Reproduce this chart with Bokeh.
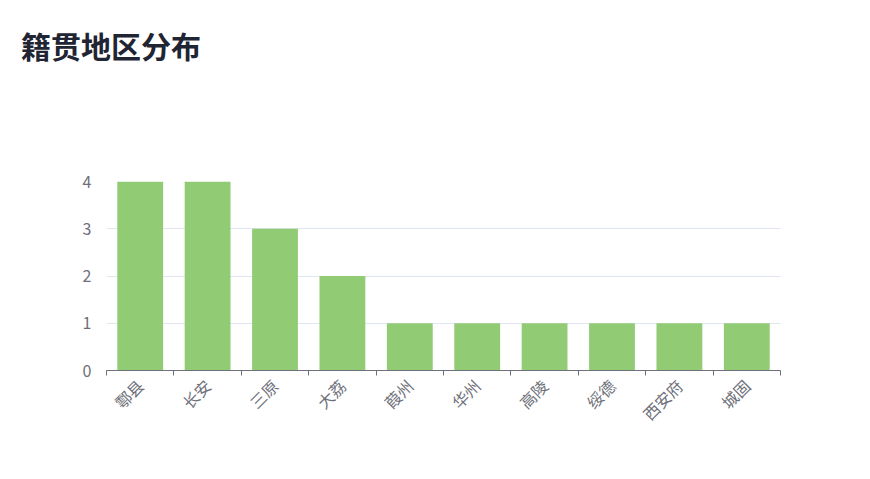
from math import pi
from bokeh.plotting import figure
from bokeh.layouts import column
from bokeh.models import Range1d, FixedTicker, ColumnDataSource, Div
from bokeh.embed import file_html
from bokeh.resources import INLINE

categories = ["鄠县", "长安", "三原", "大荔", "葭州", "华州", "高陵", "绥德", "西安府", "城固"]
counts = [4, 4, 3, 2, 1, 1, 1, 1, 1, 1]
y_ticks = [0, 1, 2, 3, 4]
title_text = "籍贯地区分布"

FONT = "Noto Sans CJK SC"
LABEL_COLOR = "#6e7079"

n = len(categories)
xs = [i + 0.5 for i in range(n)]
src = ColumnDataSource(dict(x=xs, top=counts, cat=categories))

W, H = 862, 471
HEAD = 80
LEFT, RIGHT, TOP, BOTTOM = 106, 82, 181 - HEAD, 101

header = Div(
    text=('<div style="margin:24px 0 0 21px; font-family:\'Noto Sans CJK SC\'; '
          'font-size:30px; font-weight:bold; line-height:43px; color:#1f2533; '
          'white-space:nowrap;">' + title_text + '</div>'),
    width=W, height=HEAD, margin=(0, 0, 0, 0))

p = figure(width=W, height=H - HEAD, output_backend="svg", toolbar_location=None,
           x_range=Range1d(0, n), y_range=Range1d(0, max(y_ticks)),
           min_border_left=LEFT, min_border_right=RIGHT, min_border_top=TOP,
           min_border_bottom=BOTTOM, margin=(0, 0, 0, 0))
p.outline_line_color = None
p.background_fill_color = "white"
p.border_fill_color = "white"

p.vbar(x="x", top="top", width=0.68, bottom=0, source=src,
       fill_color="#91cc75", line_color=None)

# x axis
p.xaxis.ticker = FixedTicker(ticks=xs, minor_ticks=list(range(n + 1)))
p.xaxis.major_label_overrides = {x: c for x, c in zip(xs, categories)}
p.xaxis.major_tick_line_color = None
p.xaxis.minor_tick_line_color = LABEL_COLOR
p.xaxis.minor_tick_in = 0
p.xaxis.minor_tick_out = 5
p.xaxis.axis_line_color = LABEL_COLOR
p.xaxis.major_label_orientation = pi / 4
p.xaxis.major_label_text_font = FONT
p.xaxis.major_label_text_font_size = "16px"
p.xaxis.major_label_text_color = LABEL_COLOR
p.xaxis.major_label_standoff = 6

# y axis
p.yaxis.ticker = FixedTicker(ticks=y_ticks)
p.yaxis.axis_line_color = None
p.yaxis.major_tick_line_color = None
p.yaxis.minor_tick_line_color = None
p.yaxis.major_label_text_font = FONT
p.yaxis.major_label_text_font_size = "16px"
p.yaxis.major_label_text_color = LABEL_COLOR
p.yaxis.major_label_standoff = 9

p.xgrid.grid_line_color = None
p.ygrid.grid_line_color = "#e0e6f1"
p.ygrid.ticker = FixedTicker(ticks=y_ticks[1:])

layout = column(header, p, spacing=0)

open("out.html", "w").write(file_html(layout, INLINE))
